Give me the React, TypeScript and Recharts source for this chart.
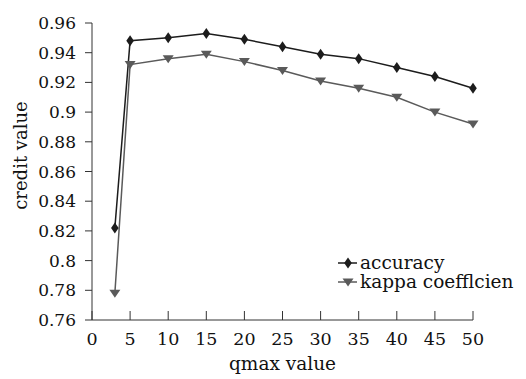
import { LineChart, Line, XAxis, YAxis, Legend } from 'recharts';

const qmax = [3, 5, 10, 15, 20, 25, 30, 35, 40, 45, 50];
const accuracy = [0.822, 0.948, 0.95, 0.953, 0.949, 0.944, 0.939, 0.936, 0.93, 0.924, 0.916];
const kappa = [0.778, 0.932, 0.936, 0.939, 0.934, 0.928, 0.921, 0.916, 0.91, 0.9, 0.892];
const xTicks = [0, 5, 10, 15, 20, 25, 30, 35, 40, 45, 50];
const yTicks = [0.76, 0.78, 0.8, 0.82, 0.84, 0.86, 0.88, 0.9, 0.92, 0.94, 0.96];

const data = qmax.map((q, i) => ({ q, accuracy: accuracy[i], kappa: kappa[i] }));

const FONT = '"DejaVu Serif", serif';
const ACC_COLOR = '#1c1c1c';
const KAPPA_COLOR = '#5a5a5a';

function Diamond({ cx, cy, fill }: any) {
  if (cx == null || cy == null) return null;
  return <path d={`M${cx},${cy - 5.5}L${cx + 3.8},${cy}L${cx},${cy + 5.5}L${cx - 3.8},${cy}Z`} fill={fill} />;
}

function TriDown({ cx, cy, fill }: any) {
  if (cx == null || cy == null) return null;
  return <path d={`M${cx - 5.5},${cy - 3.5}L${cx + 5.5},${cy - 3.5}L${cx},${cy + 4.5}Z`} fill={fill} />;
}

// x ticks point up into the plot, so draw the tick line ourselves
function XTick({ x, y, payload }: any) {
  return (
    <g>
      <line x1={x} x2={x} y1={y} y2={y - 9} stroke="#333" strokeWidth={1} />
      <text x={x} y={y + 25} textAnchor="middle" fontSize={17.5} fill="#111" fontFamily={FONT}>
        {payload.value}
      </text>
    </g>
  );
}

function YLabel({ viewBox }: any) {
  const x = 20;
  const y = viewBox ? viewBox.y + viewBox.height / 2 - 16 : 155;
  return (
    <text
      x={x}
      y={y}
      transform={`rotate(-90 ${x} ${y})`}
      textAnchor="middle"
      dominantBaseline="central"
      fontSize={18}
      fill="#111"
      fontFamily={FONT}
    >
      credit value
    </text>
  );
}

function LegendBox() {
  const rows = [
    { name: 'accuracy', color: ACC_COLOR, Icon: Diamond },
    { name: 'kappa coefflcien', color: KAPPA_COLOR, Icon: TriDown },
  ];
  return (
    <div style={{ fontFamily: FONT, fontSize: 18.5, color: '#111', lineHeight: '19px' }}>
      {rows.map(({ name, color, Icon }) => (
        <div key={name} style={{ display: 'flex', alignItems: 'center' }}>
          <svg width={23} height={19}>
            <line x1={1} x2={20} y1={10} y2={10} stroke={color} strokeWidth={1.5} />
            <Icon cx={11} cy={10} fill={color} />
          </svg>
          <span>{name}</span>
        </div>
      ))}
    </div>
  );
}

export default function App() {
  return (
    <div style={{ width: 526, height: 379, background: '#fff' }}>
      <style>{'body{margin:0}'}</style>
      <LineChart width={526} height={379} data={data} margin={{ top: 23, right: 53, bottom: 29, left: 0 }}>
        <XAxis
          type="number"
          dataKey="q"
          domain={[0, 50]}
          ticks={xTicks}
          tick={<XTick />}
          tickLine={false}
          tickSize={0}
          tickMargin={0}
          axisLine={{ stroke: '#333' }}
          height={30}
          label={{ value: 'qmax value', position: 'bottom', offset: 7, fontSize: 18.5, fill: '#111', fontFamily: FONT }}
        />
        <YAxis
          type="number"
          domain={[0.76, 0.96]}
          ticks={yTicks}
          width={92}
          interval={0}
          tickFormatter={(v: number) => String(Number(v.toFixed(2)))}
          tick={{ fontSize: 17, fill: '#111', fontFamily: FONT }}
          tickSize={7}
          tickMargin={9}
          axisLine={{ stroke: '#333' }}
          tickLine={{ stroke: '#333' }}
          label={<YLabel />}
        />
        <Legend
          layout="horizontal"
          verticalAlign="middle"
          align="center"
          wrapperStyle={{ left: 337, top: 253, width: 'auto' }}
          content={<LegendBox />}
        />
        <Line
          dataKey="accuracy"
          stroke={ACC_COLOR}
          strokeWidth={1.5}
          dot={<Diamond fill={ACC_COLOR} />}
          activeDot={false}
          isAnimationActive={false}
        />
        <Line
          dataKey="kappa"
          stroke={KAPPA_COLOR}
          strokeWidth={1.5}
          dot={<TriDown fill={KAPPA_COLOR} />}
          activeDot={false}
          isAnimationActive={false}
        />
      </LineChart>
    </div>
  );
}
